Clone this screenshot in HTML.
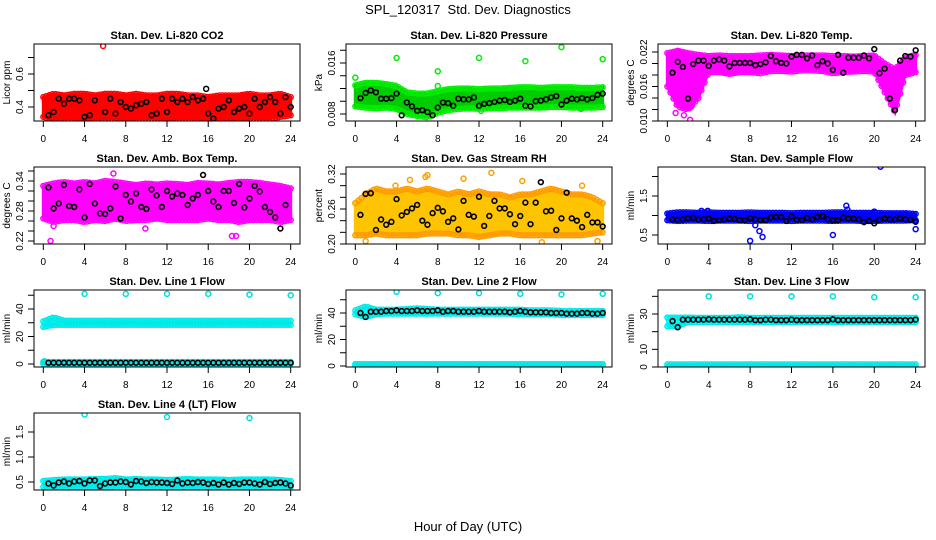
<!DOCTYPE html>
<html><head><meta charset="utf-8"><style>
html,body{margin:0;padding:0;background:#fff;}
svg{display:block;font-family:"Liberation Sans",sans-serif;}
</style></head><body>
<svg id="chart" width="936" height="540" viewBox="0 0 936 540" xmlns="http://www.w3.org/2000/svg">
<rect width="936" height="540" fill="#fff"/>
<text x="468" y="14" text-anchor="middle" font-size="13" style="white-space:pre">SPL_120317  Std. Dev. Diagnostics</text>
<text x="468" y="531" text-anchor="middle" font-size="13">Hour of Day (UTC)</text>
</svg>
<script>
// ---- data (hourly cloud envelopes 0..24, half-hourly means 0..24, outliers) ----
const xTicks = [0,4,8,12,16,20,24];

const co2Lo = [0.34,0.32,0.33,0.33,0.32,0.33,0.33,0.33,0.32,0.33,0.33,0.33,0.32,0.33,0.33,0.33,0.32,0.33,0.32,0.32,0.33,0.33,0.33,0.34,0.35];
const co2Hi = [0.46,0.48,0.47,0.48,0.48,0.47,0.48,0.48,0.47,0.48,0.47,0.47,0.48,0.48,0.47,0.47,0.46,0.47,0.47,0.47,0.48,0.47,0.47,0.48,0.46];
const co2Mean = [null,0.35,0.37,0.45,0.42,0.45,0.45,0.44,0.34,0.35,0.44,0.30,0.37,0.45,0.36,0.43,0.40,0.39,0.41,0.42,0.43,0.35,0.36,0.45,0.37,0.45,0.43,0.45,0.43,0.46,0.44,0.45,0.36,0.33,0.39,0.40,0.44,0.37,0.39,0.40,0.36,0.45,0.40,0.43,0.46,0.43,0.36,0.46,0.40];
const co2OutX = [5.8,15.8,6.2,19.7];
const co2OutY = [0.77,0.51,0.30,0.30];

const presLo = [0.0092,0.0090,0.0089,0.0090,0.0088,0.0080,0.0077,0.0075,0.0082,0.0086,0.0088,0.0089,0.0088,0.0089,0.0089,0.0090,0.0090,0.0090,0.0090,0.0091,0.0091,0.0090,0.0090,0.0090,0.0091];
const presHi = [0.0125,0.0129,0.0129,0.0127,0.0124,0.0114,0.0112,0.0112,0.0116,0.0119,0.0120,0.0120,0.0119,0.0120,0.0120,0.0121,0.0122,0.0122,0.0121,0.0122,0.0122,0.0122,0.0121,0.0121,0.0122];
const presMean = [null,0.0105,0.0113,0.0117,0.0114,0.0104,0.0104,0.0105,0.0112,0.0078,0.0098,0.0092,0.0085,0.0086,0.0083,0.0078,0.0090,0.0098,0.0097,0.0093,0.0104,0.0103,0.0103,0.0106,0.0093,0.0096,0.0097,0.0099,0.0101,0.0102,0.0099,0.0101,0.0104,0.0093,0.0092,0.0100,0.0101,0.0103,0.0106,0.0108,0.0095,0.0101,0.0104,0.0103,0.0105,0.0103,0.0105,0.0110,0.0112];
const presOutX = [0,4,8,8,12,16.5,20,24,12.2,21.9];
const presOutY = [0.0137,0.0168,0.0147,0.0124,0.0168,0.0163,0.0185,0.0166,0.0085,0.0088];

const tempLo = [0.0160,0.0125,0.0120,0.0140,0.0185,0.0185,0.0182,0.0185,0.0185,0.0183,0.0187,0.0187,0.0186,0.0188,0.0188,0.0187,0.0183,0.0185,0.0186,0.0187,0.0186,0.0150,0.0115,0.0180,0.0185];
const tempHi = [0.0218,0.0222,0.0218,0.0215,0.0213,0.0214,0.0213,0.0213,0.0213,0.0214,0.0215,0.0214,0.0213,0.0214,0.0214,0.0214,0.0213,0.0213,0.0212,0.0213,0.0214,0.0200,0.0190,0.0210,0.0215];
const tempMean = [null,0.0184,0.0203,0.0194,0.0139,0.0199,0.0205,0.0205,0.0196,0.0205,0.0207,0.0205,0.0195,0.0201,0.0201,0.0201,0.0201,0.0197,0.0199,0.0202,0.0213,0.0204,0.0201,0.0200,0.0212,0.0215,0.0215,0.0209,0.0214,0.0197,0.0204,0.0200,0.0189,0.0215,0.0184,0.0210,0.0210,0.0210,0.0214,0.0209,0.0225,0.0183,0.0191,0.0139,0.0119,0.0205,0.0213,0.0212,0.0223];
const tempOutX = [2.2,1.0,0.8,1.6,2.3];
const tempOutY = [0.0102,0.0222,0.0114,0.0110,0.0125];

const ambLo = [0.265,0.258,0.262,0.262,0.258,0.262,0.260,0.265,0.260,0.262,0.262,0.265,0.262,0.262,0.262,0.262,0.265,0.262,0.262,0.258,0.262,0.262,0.262,0.258,0.262];
const ambHi = [0.330,0.335,0.338,0.335,0.338,0.335,0.340,0.338,0.335,0.332,0.335,0.333,0.335,0.334,0.332,0.336,0.335,0.333,0.336,0.338,0.338,0.336,0.333,0.330,0.325];
const ambMean = [null,0.327,0.285,0.295,0.332,0.290,0.288,0.323,0.267,0.334,0.295,0.275,0.274,0.285,0.329,0.265,0.312,0.299,0.315,0.288,0.284,0.323,0.311,0.288,0.320,0.309,0.315,0.312,0.292,0.305,0.312,0.352,0.320,0.299,0.288,0.320,0.320,0.296,0.334,0.287,0.305,0.330,0.319,0.288,0.278,0.267,0.245,0.292,null];
const ambOutX = [0.7,6.8,18.3,18.7,1.0,9.9];
const ambOutY = [0.220,0.355,0.230,0.230,0.250,0.245];

const gasLo = [0.215,0.215,0.218,0.215,0.215,0.215,0.215,0.218,0.218,0.218,0.215,0.215,0.212,0.215,0.218,0.218,0.215,0.215,0.215,0.215,0.215,0.215,0.215,0.218,0.220];
const gasHi = [0.270,0.285,0.295,0.290,0.290,0.295,0.290,0.295,0.290,0.285,0.290,0.285,0.290,0.285,0.285,0.280,0.285,0.285,0.290,0.295,0.290,0.285,0.285,0.280,0.270];
const gasMean = [null,0.250,0.286,0.287,0.224,0.242,0.233,0.238,0.277,0.249,0.255,0.261,0.267,0.240,0.233,0.253,0.262,0.256,0.238,0.244,0.225,0.274,0.250,0.247,0.281,0.231,0.248,0.274,0.261,0.261,0.251,0.234,0.248,0.271,0.234,0.271,0.306,0.256,0.257,0.224,0.244,0.288,0.244,0.240,0.229,0.250,0.237,0.237,0.230];
const gasOutX = [13.2,7.0,6.8,5.3,10.5,16.2,1.0,18.1,23.5,5.2,3.9,22.0];
const gasOutY = [0.322,0.318,0.315,0.310,0.312,0.308,0.205,0.203,0.205,0.215,0.300,0.300];

const flowLo = [0.88,0.86,0.87,0.87,0.86,0.87,0.87,0.87,0.86,0.87,0.87,0.87,0.86,0.87,0.87,0.87,0.86,0.87,0.87,0.86,0.86,0.87,0.87,0.87,0.88];
const flowHi = [1.05,1.08,1.08,1.07,1.08,1.07,1.07,1.07,1.08,1.07,1.07,1.07,1.06,1.07,1.07,1.07,1.08,1.08,1.07,1.07,1.07,1.06,1.06,1.06,1.04];
const flowMean = [null,0.90,0.89,0.90,0.93,0.94,0.90,0.90,0.92,0.86,0.88,0.90,0.92,0.91,0.88,0.88,0.93,0.90,0.88,0.88,0.95,0.96,0.96,0.86,0.98,0.89,0.88,0.94,0.90,0.96,0.98,0.90,0.88,0.88,0.95,0.92,0.92,0.90,0.83,0.86,0.80,0.89,0.92,0.90,0.90,0.93,0.90,0.89,0.84];
const flowOutX = [20.6,17.3,3.3,3.9,8.0,8.5,8.9,9.2,16.0,24.0,20.0,17.4];
const flowOutY = [2.25,1.25,1.12,1.12,0.35,0.75,0.60,0.45,0.50,0.65,1.10,1.15];

const line1Lo = [27,28.5,28.5,28.5,28.5,28.5,28.5,28.5,28.5,28.5,28.5,28.5,28.5,28.5,28.5,28.5,28.5,28.5,28.5,28.5,28.5,28.5,28.5,28.5,28.5];
const line1Hi = [31,34,31.5,31.5,31.5,31.5,31.5,31.5,31.5,31.5,31.5,31.5,31.5,31.5,31.5,31.5,31.5,31.5,31.5,31.5,31.5,31.5,31.5,31.5,31.5];
const line1ZeroLo = [0,0,0,0,0,0,0,0,0,0,0,0,0,0,0,0,0,0,0,0,0,0,0,0,0];
const line1ZeroHi = [1.5,1.5,1.5,1.5,1.5,1.5,1.5,1.5,1.5,1.5,1.5,1.5,1.5,1.5,1.5,1.5,1.5,1.5,1.5,1.5,1.5,1.5,1.5,1.5,1.5];
const line1Mean = [null,0.9,0.9,0.9,0.9,0.9,0.9,0.9,0.9,0.9,0.9,0.9,0.9,0.9,0.9,0.9,0.9,0.9,0.9,0.9,0.9,0.9,0.9,0.9,0.9,0.9,0.9,0.9,0.9,0.9,0.9,0.9,0.9,0.9,0.9,0.9,0.9,0.9,0.9,0.9,0.9,0.9,0.9,0.9,0.9,0.9,0.9,0.9,0.9];
const line1OutX = [4,8,12,16,20,24,0.1];
const line1OutY = [51,51,51,51,50.5,50,2];

const line2Lo = [39,37,39,39.5,39.5,39.5,39.5,39.5,39.5,39.5,39.5,39.5,39.5,39.5,39.5,39.5,39,39,39,39,38.5,38.5,38.5,38.5,38.5];
const line2Hi = [42,45,42.5,42.5,42.5,43,43.5,43,42.5,42.5,42.5,42.5,42.5,42.5,42.5,42.5,42.5,42,42,42,41.5,41.5,41.5,41.5,41.5];
const line2ZeroLo = [0,0,0,0,0,0,0,0,0,0,0,0,0,0,0,0,0,0,0,0,0,0,0,0,0];
const line2ZeroHi = [1.5,1.5,1.5,1.5,1.5,1.5,1.5,1.5,1.5,1.5,1.5,1.5,1.5,1.5,1.5,1.5,1.5,1.5,1.5,1.5,1.5,1.5,1.5,1.5,1.5];
const line2Mean = [null,40,37,41,41,41,41.5,41.5,42,41.5,41.5,41.5,42,41.5,41.5,41.5,42,41,41.5,41.5,41,41,41,41,41.5,41,41,41,41,41,40.5,41,41.5,41,40.5,40.5,40.5,40.5,40,40,40,39.5,39.5,39.5,40,40,39.5,39.5,40];
const line2OutX = [4,8,12,16,20,24];
const line2OutY = [56,55,55,54.5,54,54.5];

const line3Lo = [23,23,25.5,25.5,25.5,25.5,25.5,25.5,25.5,25.5,25.5,25.5,25.5,25.5,25.5,25.5,25.5,25.5,25.5,25.5,25.5,25.5,25.5,25.5,25.5];
const line3Hi = [28,28,28,27.8,27.8,27.8,27.8,28.2,27.8,27.8,27.8,27.8,27.8,27.8,27.8,27.8,27.8,27.8,27.8,27.8,27.8,27.8,27.8,27.8,27.8];
const line3ZeroLo = [0,0,0,0,0,0,0,0,0,0,0,0,0,0,0,0,0,0,0,0,0,0,0,0,0];
const line3ZeroHi = [1.5,1.5,1.5,1.5,1.5,1.5,1.5,1.5,1.5,1.5,1.5,1.5,1.5,1.5,1.5,1.5,1.5,1.5,1.5,1.5,1.5,1.5,1.5,1.5,1.5];
const line3Mean = [null,26,22.5,26.8,26.8,26.8,26.8,26.8,27,26.8,26.8,26.8,26.8,26.8,26.8,26.8,27,26.5,26.5,26.8,26.8,26.5,26.5,26.5,26.8,26.5,26.5,26.5,26.5,26.5,26.5,26.5,27,26.5,26.5,26.5,26.5,26.5,26.5,26.5,26.5,26.5,26.5,26.5,26.5,26.5,26.5,26.5,26.8];
const line3OutX = [4,8,12,16,20,24];
const line3OutY = [40,40,40,40,39.5,39.5];

const line4Lo = [0.40,0.39,0.40,0.40,0.40,0.40,0.40,0.40,0.40,0.40,0.40,0.40,0.40,0.40,0.40,0.40,0.40,0.40,0.40,0.40,0.40,0.40,0.40,0.40,0.40];
const line4Hi = [0.52,0.54,0.55,0.55,0.55,0.56,0.56,0.58,0.55,0.56,0.55,0.55,0.54,0.55,0.56,0.55,0.55,0.55,0.54,0.55,0.55,0.55,0.55,0.54,0.52];
const line4Mean = [null,0.47,0.43,0.49,0.51,0.47,0.51,0.52,0.47,0.53,0.53,0.42,0.47,0.49,0.49,0.51,0.50,0.45,0.52,0.51,0.48,0.50,0.49,0.49,0.48,0.46,0.53,0.47,0.49,0.48,0.50,0.49,0.46,0.48,0.45,0.49,0.45,0.48,0.46,0.49,0.49,0.47,0.45,0.50,0.46,0.48,0.49,0.47,0.43];
const line4OutX = [4,12,20];
const line4OutY = [1.85,1.80,1.78];

// ---- layout (positions, not data) ----
const panels = [
 {key:'co2', title:'Stan. Dev. Li-820 CO2', ylab:'Licor ppm', L:34,T:44,W:266,H:77, v0:0.4,p0:107,v1:0.6,p1:74, ticks:[0.4,0.5,0.6,0.7], labels:[0.4,0.6], fmt:1, color:'#ff0000', edge:'#ff0000',
  bands:[[co2Lo,co2Hi]], mean:co2Mean, ox:co2OutX, oy:co2OutY, ocol:['#ff0000','#000','#000','#000']},
 {key:'pressure', title:'Stan. Dev. Li-820 Pressure', ylab:'kPa', L:346,T:44,W:266,H:77, v0:0.008,p0:114,v1:0.016,p1:63, ticks:[0.008,0.010,0.012,0.014,0.016,0.018], labels:[0.008,0.016], fmt:3, color:'#00cc00', edge:'#00ee00',
  bands:[[presLo,presHi]], mean:presMean, ox:presOutX, oy:presOutY, ocol:['#00ee00','#00ee00','#00ee00','#00ee00','#00ee00','#00ee00','#00ee00','#00ee00','#00ee00','#00ee00']},
 {key:'temp', title:'Stan. Dev. Li-820 Temp.', ylab:'degrees C', L:658,T:44,W:267,H:77, v0:0.010,p0:121,v1:0.022,p1:52, ticks:[0.010,0.012,0.014,0.016,0.018,0.020,0.022], labels:[0.010,0.016,0.022], fmt:3, color:'#ff00ff', edge:'#ff00ff',
  bands:[[tempLo,tempHi]], mean:tempMean, ox:tempOutX, oy:tempOutY, ocol:['#ff00ff','#ff00ff','#ff00ff','#ff00ff','#ff00ff']},
 {key:'ambtemp', title:'Stan. Dev. Amb. Box Temp.', ylab:'degrees C', L:34,T:167,W:266,H:77, v0:0.22,p0:241,v1:0.36,p1:171, ticks:[0.22,0.24,0.26,0.28,0.30,0.32,0.34,0.36], labels:[0.22,0.28,0.34], fmt:2, color:'#ff00ff', edge:'#ff00ff',
  bands:[[ambLo,ambHi]], mean:ambMean, ox:ambOutX, oy:ambOutY, ocol:['#ff00ff','#ff00ff','#ff00ff','#ff00ff','#ff00ff','#ff00ff']},
 {key:'gasrh', title:'Stan. Dev. Gas Stream RH', ylab:'percent', L:346,T:167,W:266,H:77, v0:0.20,p0:244,v1:0.32,p1:174, ticks:[0.20,0.22,0.24,0.26,0.28,0.30,0.32], labels:[0.20,0.26,0.32], fmt:2, color:'#ffc400', edge:'#ff9a00',
  bands:[[gasLo,gasHi]], mean:gasMean, ox:gasOutX, oy:gasOutY, ocol:['#ffa000','#ffa000','#ffa000','#ffa000','#ffa000','#ffa000','#ffa000','#ffa000','#ffa000','#ffa000','#ffa000','#ffa000']},
 {key:'sampleflow', title:'Stan. Dev. Sample Flow', ylab:'ml/min', L:658,T:167,W:267,H:77, v0:0.5,p0:235,v1:1.5,p1:196, ticks:[0.5,1.0,1.5,2.0], labels:[0.5,1.5], fmt:1, color:'#0000ff', edge:'#0000ff',
  bands:[[flowLo,flowHi]], mean:flowMean, ox:flowOutX, oy:flowOutY, ocol:['#0000ff','#0000ff','#0000ff','#0000ff','#0000ff','#0000ff','#0000ff','#0000ff','#0000ff','#0000ff','#0000ff','#0000ff']},
 {key:'line1', title:'Stan. Dev. Line 1 Flow', ylab:'ml/min', L:34,T:290,W:266,H:77, v0:0,p0:364,v1:40,p1:309, ticks:[0,10,20,30,40,50], labels:[0,20,40], fmt:0, color:'#00ffff', edge:'#00e8e8',
  bands:[[line1Lo,line1Hi],[line1ZeroLo,line1ZeroHi]], mean:line1Mean, ox:line1OutX, oy:line1OutY, ocol:['#00dddd','#00dddd','#00dddd','#00dddd','#00dddd','#00dddd','#00dddd']},
 {key:'line2', title:'Stan. Dev. Line 2 Flow', ylab:'ml/min', L:346,T:290,W:266,H:77, v0:0,p0:366,v1:40,p1:313, ticks:[0,10,20,30,40,50], labels:[0,20,40], fmt:0, color:'#00ffff', edge:'#00e8e8',
  bands:[[line2Lo,line2Hi],[line2ZeroLo,line2ZeroHi]], mean:line2Mean, ox:line2OutX, oy:line2OutY, ocol:['#00dddd','#00dddd','#00dddd','#00dddd','#00dddd','#00dddd']},
 {key:'line3', title:'Stan. Dev. Line 3 Flow', ylab:'ml/min', L:658,T:290,W:267,H:77, v0:0,p0:367,v1:30,p1:314, ticks:[0,10,20,30,40], labels:[0,10,30], fmt:0, color:'#00ffff', edge:'#00e8e8',
  bands:[[line3Lo,line3Hi],[line3ZeroLo,line3ZeroHi]], mean:line3Mean, ox:line3OutX, oy:line3OutY, ocol:['#00dddd','#00dddd','#00dddd','#00dddd','#00dddd','#00dddd']},
 {key:'line4', title:'Stan. Dev. Line 4 (LT) Flow', ylab:'ml/min', L:34,T:413,W:266,H:77, v0:0.5,p0:482,v1:1.5,p1:432, ticks:[0.5,1.0,1.5], labels:[0.5,1.0,1.5], fmt:1, color:'#00ffff', edge:'#00e8e8',
  bands:[[line4Lo,line4Hi]], mean:line4Mean, ox:line4OutX, oy:line4OutY, ocol:['#00dddd','#00dddd','#00dddd']}
];

const NS='http://www.w3.org/2000/svg';
const svg=document.getElementById('chart');
function mk(tag,attrs,parent){const e=document.createElementNS(NS,tag);for(const k in attrs)e.setAttribute(k,attrs[k]);(parent||svg).appendChild(e);return e;}

panels.forEach(p=>{
  const xs=h=>p.L+p.W*0.035+h/24*p.W*0.93;
  const ys=v=>p.p0+(v-p.v0)*(p.p1-p.p0)/(p.v1-p.v0);
  const g=mk('g',{});
  
  
  const clipId='clip-'+p.key;
  const cp=mk('clipPath',{id:clipId},g);
  mk('rect',{x:p.L,y:p.T,width:p.W,height:p.H},cp);
  const plot=mk('g',{'clip-path':'url(#'+clipId+')'},g);
  p.bands.forEach((b,bi)=>{
    const lo=b[0],hi=b[1];
    let pts=[];
    for(let i=0;i<lo.length;i++)pts.push(xs(i)+','+ys(hi[i]));
    for(let i=lo.length-1;i>=0;i--)pts.push(xs(i)+','+ys(lo[i]));
    const poly=mk('polygon',{points:pts.join(' '),fill:p.color,stroke:p.color,'stroke-width':3},plot);
    
    
    for(let h=0;h<=24.001;h+=0.3){
      const i=Math.min(Math.floor(h),23),f=h-i;
      const l=lo[i]+(lo[i+1]-lo[i])*f, u=hi[i]+(hi[i+1]-hi[i])*f;
      [l,u].forEach(v=>{
        const c=mk('circle',{cx:xs(h),cy:ys(v),r:2.5,fill:'none',stroke:p.edge,'stroke-width':1.4},plot);
        
        
      });
    }
  });
  p.ox.forEach((x,i)=>{
    const c=mk('circle',{cx:xs(x),cy:ys(p.oy[i]),r:2.5,fill:'none',stroke:p.ocol[i],'stroke-width':1.5},plot);
    
    
  });
  p.mean.forEach((v,i)=>{
    if(v===null)return;
    const c=mk('circle',{cx:xs(i*0.5),cy:ys(v),r:2.4,fill:'none',stroke:'#000','stroke-width':1.6},plot);
    
    
  });
  const box=mk('rect',{x:p.L,y:p.T,width:p.W,height:p.H,fill:'none',stroke:'#000','stroke-width':1},g);
  
  
  const B=p.T+p.H;
  mk('line',{x1:xs(0),y1:B,x2:xs(24),y2:B,stroke:'#000'},g);
  xTicks.forEach(t=>{
    mk('line',{x1:xs(t),y1:B,x2:xs(t),y2:B+6,stroke:'#000'},g);
    const tx=mk('text',{x:xs(t),y:B+21,'text-anchor':'middle','font-size':10},g);
    tx.textContent=t;
    
    
  });
  const ty0=ys(p.ticks[0]),ty1=ys(p.ticks[p.ticks.length-1]);
  mk('line',{x1:p.L,y1:ty0,x2:p.L,y2:ty1,stroke:'#000'},g);
  p.ticks.forEach(t=>{mk('line',{x1:p.L-6,y1:ys(t),x2:p.L,y2:ys(t),stroke:'#000'},g);});
  p.labels.forEach(t=>{
    const x=p.L-11,y=ys(t);
    const tx=mk('text',{x:x,y:y,'text-anchor':'middle','font-size':10,transform:'rotate(-90 '+x+' '+y+')'},g);
    tx.textContent=t.toFixed(p.fmt);
    
    
  });
  const lx=p.L-24,ly=p.T+p.H/2;
  const yl=mk('text',{x:lx,y:ly,'text-anchor':'middle','font-size':10,transform:'rotate(-90 '+lx+' '+ly+')'},g);
  yl.textContent=p.ylab;
  
  
  const tt=mk('text',{x:p.L+p.W/2,y:p.T-5,'text-anchor':'middle','font-size':11,'font-weight':'bold'},g);
  tt.textContent=p.title;
  
  
});
</script>
</body></html>
